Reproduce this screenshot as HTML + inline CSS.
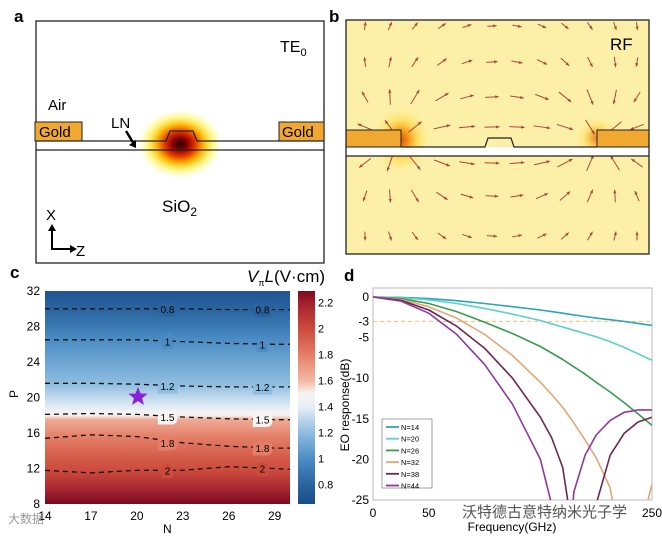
<!DOCTYPE html>
<html><head><meta charset="utf-8"><style>
html,body{margin:0;background:#fff;overflow:hidden;width:662px;height:539px;}
svg{display:block;font-family:"Liberation Sans","Noto Sans CJK SC",sans-serif;}
</style></head><body>
<svg id="root" width="662" height="539" viewBox="0 0 662 539">
<defs>
<radialGradient id="mode" cx="0.5" cy="0.5" r="0.5">
<stop offset="0" stop-color="#200000"/><stop offset="0.18" stop-color="#8a0000"/><stop offset="0.35" stop-color="#e03000"/><stop offset="0.55" stop-color="#ffb000"/><stop offset="0.75" stop-color="#ffee40" stop-opacity="0.7"/><stop offset="1" stop-color="#ffff80" stop-opacity="0"/>
</radialGradient>
<radialGradient id="glow" cx="0.5" cy="0.5" r="0.5">
<stop offset="0" stop-color="#e05010"/><stop offset="0.3" stop-color="#f6a020"/><stop offset="0.6" stop-color="#ffd840" stop-opacity="0.6"/><stop offset="1" stop-color="#fff0a0" stop-opacity="0"/>
</radialGradient>
<linearGradient id="heat" x1="0" y1="0" x2="0" y2="1" gradientUnits="objectBoundingBox"></linearGradient>
<linearGradient id="cbar" x1="0" y1="0" x2="0" y2="1"></linearGradient>
<clipPath id="clipd"><rect x="373" y="288" width="279" height="212"/></clipPath>
<clipPath id="clipb"><rect x="346" y="20" width="303" height="234"/></clipPath>
</defs>

<g>
<text x="14" y="22" font-size="17" font-weight="bold">a</text>
<rect x="36" y="21" width="288" height="242" fill="#fff" stroke="#222" stroke-width="1.3"/>
<ellipse cx="180" cy="144" rx="42" ry="34" fill="url(#mode)"/>
<rect x="35" y="122" width="47" height="19" fill="#f0a830" stroke="#222"/>
<rect x="279" y="122" width="45" height="19" fill="#f0a830" stroke="#222"/>
<path d="M36 141 H166 L170 131 H193 L197 141 H324 M36 150 H324" fill="none" stroke="#222" stroke-width="1.3"/>
<text x="39" y="137" font-size="15">Gold</text>
<text x="282" y="137" font-size="15">Gold</text>
<text x="48" y="110" font-size="15">Air</text>
<text x="111" y="128" font-size="15">LN</text>
<path d="M126 131 L134 144" stroke="#000" stroke-width="2.5"/><path d="M129 145 L136 148 L136 140 Z" fill="#000"/>
<text x="162" y="212" font-size="17">SiO<tspan font-size="12" dy="4">2</tspan></text>
<text x="280" y="52" font-size="16">TE<tspan font-size="11" dy="4">0</tspan></text>
<g>
<text x="46" y="220" font-size="15">X</text><text x="76" y="256" font-size="15">Z</text>
<path d="M52 229 V249 H72" fill="none" stroke="#000" stroke-width="2"/>
<path d="M48 231 L52 224 L56 231 Z M70 245 L77 249 L70 253 Z" fill="#000"/>
</g>
</g>

<g>
<text x="329" y="22" font-size="17" font-weight="bold">b</text>
<rect x="346" y="20" width="303" height="234" fill="#fcf0a8"/>
<g clip-path="url(#clipb)">
<ellipse cx="401" cy="140" rx="30" ry="34" fill="url(#glow)"/>
<ellipse cx="597" cy="138" rx="22" ry="22" fill="url(#glow)" opacity="0.7"/>
<g id="arrows"></g>
</g>
<rect x="346" y="147" width="303" height="9" fill="#fff"/>
<rect x="346" y="130" width="55" height="17" fill="#f0a830" stroke="#222"/>
<rect x="597" y="130" width="52" height="17" fill="#f0a830" stroke="#222"/>
<path d="M401 147 H485 L488 138 H511 L514 147 H597 M346 156 H649" fill="none" stroke="#222" stroke-width="1.2"/>
<rect x="346" y="20" width="303" height="234" fill="none" stroke="#222" stroke-width="1.3"/>
<text x="610" y="50" font-size="17">RF</text>
</g>

<g>
<text x="10" y="278" font-size="17" font-weight="bold">c</text>
<rect id="heatrect" x="45" y="291" width="245" height="213" fill="url(#heat)"/>
<g id="contours"></g>
<g id="caxes"></g>
<rect x="298" y="291" width="17" height="213" fill="url(#cbar)"/>
<g id="cbarticks"></g>
<text x="247" y="282" font-size="17"><tspan font-style="italic">V</tspan><tspan font-size="9" dy="4">π</tspan><tspan font-style="italic" dy="-4">L</tspan>(V·cm)</text>
<text x="14" y="402" font-size="12" transform="rotate(-90 14 398)">P</text>
<text x="163" y="533" font-size="12">N</text>
<path d="M138 387 l2.6 6.5 7 .3 -5.5 4.4 1.9 6.8 -6 -3.9 -6 3.9 1.9 -6.8 -5.5 -4.4 7 -.3z" fill="#8a22d8"/>
</g>

<g>
<text x="344" y="281" font-size="17" font-weight="bold">d</text>
<rect x="373" y="288" width="279" height="212" fill="#fff" stroke="#aaa" stroke-width="0.8"/>
<g id="daxes"></g>
<g id="dlines" clip-path="url(#clipd)"></g>
<g id="legend"></g>
<text x="349" y="405" font-size="12" transform="rotate(-90 349 405)" text-anchor="middle">EO response(dB)</text>
<text x="512" y="531" font-size="12" text-anchor="middle">Frequency(GHz)</text>
</g>
<text x="462" y="517" font-size="15" fill="#555">沃特德古意特纳米光子学</text>
<text x="8" y="523" font-size="12" fill="#999">大数据</text>
</svg>
<script>
var NS='http://www.w3.org/2000/svg';
var freqs=[0,25,50,75,100,125,150,160,170,180,190,200,212.5,225,237.5,250];
var seriesNames=['N=14','N=20','N=26','N=32','N=38','N=44'];
var s14=[0,-0.05,-0.2,-0.45,-0.8,-1.2,-1.6,-1.8,-2.0,-2.2,-2.4,-2.6,-2.8,-3.0,-3.25,-3.5];
var s20=[0,-0.1,-0.35,-0.8,-1.4,-2.1,-2.9,-3.3,-3.7,-4.1,-4.5,-4.9,-5.5,-6.2,-7.0,-7.8];
var s26=[0,-0.2,-0.8,-1.8,-3.1,-4.5,-6.1,-6.9,-7.7,-8.6,-9.5,-10.5,-11.7,-13,-14.4,-15.8];
var s32=[0,-0.3,-1.2,-2.6,-4.6,-7.2,-10.5,-12,-13.6,-15.5,-17.6,-19.8,-23.5,-33,-30,-23];
var s38=[0,-0.4,-1.6,-3.6,-6.3,-10,-14.8,-17.3,-21,-30,-40,-25.5,-19.5,-16.8,-15.4,-14.8];
var s44=[0,-0.5,-2.0,-4.6,-8.3,-13.2,-20,-25.5,-40,-24,-19.5,-17,-15.2,-14.2,-13.9,-13.9];
var seriesColors=['#2aa6b8','#5cd0c8','#3a9a50','#e0a878','#6a2850','#8a3a9a'];
var dXTicks=[0,50,100,150,200,250];
var dYTicks=[0,-3,-5,-10,-15,-20,-25];
function dx(f){return 373+f/250*279;}
function dy(v){return 297+(-v)/25*203;}
var all=[s14,s20,s26,s32,s38,s44];
var dl=document.getElementById('dlines');
var ref=document.createElementNS(NS,'line');
ref.setAttribute('x1',373);ref.setAttribute('x2',652);ref.setAttribute('y1',dy(-3));ref.setAttribute('y2',dy(-3));
ref.setAttribute('stroke','#f0c070');ref.setAttribute('stroke-dasharray','4 3');ref.setAttribute('stroke-width','1');


dl.appendChild(ref);
all.forEach(function(s,i){
  var p=document.createElementNS(NS,'polyline');
  p.setAttribute('points',s.map(function(v,j){return dx(freqs[j])+','+dy(v).toFixed(1);}).join(' '));
  p.setAttribute('fill','none');p.setAttribute('stroke',seriesColors[i]);p.setAttribute('stroke-width','1.6');p.setAttribute('stroke-linejoin','round');
  
  
  dl.appendChild(p);
});
var da=document.getElementById('daxes');
dXTicks.forEach(function(t){
  if(t===100||t===150||t===200)return;
  var tx=document.createElementNS(NS,'text');tx.setAttribute('x',dx(t));tx.setAttribute('y',517);tx.setAttribute('font-size','12');tx.setAttribute('text-anchor','middle');tx.textContent=t;
  
  
  da.appendChild(tx);
});
dYTicks.forEach(function(t){
  var tx=document.createElementNS(NS,'text');tx.setAttribute('x',369);tx.setAttribute('y',dy(t)+4);tx.setAttribute('font-size','12');tx.setAttribute('text-anchor','end');tx.textContent=t;
  
  
  da.appendChild(tx);
});
var lg=document.getElementById('legend');
var lb=document.createElementNS(NS,'rect');lb.setAttribute('x',382);lb.setAttribute('y',419);lb.setAttribute('width',50);lb.setAttribute('height',69);lb.setAttribute('fill','#fff');lb.setAttribute('stroke','#666');lb.setAttribute('stroke-width','0.6');


lg.appendChild(lb);
seriesNames.forEach(function(n,i){
  var y=427+i*11.7;
  var l=document.createElementNS(NS,'line');l.setAttribute('x1',386);l.setAttribute('x2',399);l.setAttribute('y1',y);l.setAttribute('y2',y);l.setAttribute('stroke',seriesColors[i]);l.setAttribute('stroke-width','1.8');
  
  
  lg.appendChild(l);
  var t=document.createElementNS(NS,'text');t.setAttribute('x',401);t.setAttribute('y',y+3);t.setAttribute('font-size','7.5');t.textContent=n;
  
  
  lg.appendChild(t);
});

var profileP=[32,30,28,26.5,24,21.5,19.5,18.5,18,17.5,15.5,13,11.8,10,8];
var profileV=[0.7,0.8,0.9,1.0,1.1,1.2,1.35,1.45,1.5,1.65,1.8,1.95,2.0,2.15,2.3];
var cmapV=[0.65,0.8,1.0,1.2,1.4,1.5,1.6,1.8,2.0,2.2,2.3];
var cmapC=['#1a4c86','#2a64a0','#4b8dc4','#8fbde0','#e6eff7','#f7f4f2','#f3b9a4','#e47e66','#cc4b3c','#a4202e','#7a0a20'];
var contourN=[14,17,20,23,26,29,30];
var contourLevels=['0.8','1','1.2','1.5','1.8','2'];
var c08=[30,30,30,30,29.9,29.9,29.9];
var c10=[26.5,26.5,26.5,26.3,26.1,26,26];
var c12=[21.6,21.6,21.5,21.3,21.2,21.2,21.2];
var c15=[18.1,18.2,18.1,17.8,17.6,17.5,17.5];
var c18=[15.4,15.8,15.6,14.9,14.5,14.3,14.3];
var c20=[11.8,11.5,11.8,11.8,12.2,12.0,11.9];
var cXTicks=[14,17,20,23,26,29];
var cYTicks=[8,12,16,20,24,28,32];
var cbTicks=[0.8,1,1.2,1.4,1.6,1.8,2,2.2];
function cx(n){return 45+(n-14)/16*245;}
function cy(p){return 504-(p-8)/24*213;}
function cbY(v){return 291+(2.29-v)/(2.29-0.65)*213;}
function colorOf(v){var k=0;while(k<cmapV.length-2&&v>cmapV[k+1])k++;
  var t=(v-cmapV[k])/(cmapV[k+1]-cmapV[k]);return mix(cmapC[k],cmapC[k+1],Math.max(0,Math.min(1,t)));}
function mix(a,b,t){var A=parseInt(a.slice(1),16),B=parseInt(b.slice(1),16);
  var r=Math.round(((A>>16)&255)*(1-t)+((B>>16)&255)*t),g=Math.round(((A>>8)&255)*(1-t)+((B>>8)&255)*t),bb=Math.round((A&255)*(1-t)+(B&255)*t);
  return 'rgb('+r+','+g+','+bb+')';}
var heat=document.getElementById('heat');
profileP.forEach(function(p,i){
  var s=document.createElementNS(NS,'stop');s.setAttribute('offset',((32-p)/24).toFixed(3));
  s.setAttribute('stop-color',colorOf(profileV[i]));heat.appendChild(s);
});
var cb=document.getElementById('cbar');
for(var i=cmapV.length-1;i>=0;i--){var s=document.createElementNS(NS,'stop');s.setAttribute('offset',((cbY(cmapV[i])-291)/213).toFixed(3));s.setAttribute('stop-color',cmapC[i]);cb.appendChild(s);}
var cg=document.getElementById('contours');
var levelVals=[0.8,1,1.2,1.5,1.8,2];
[c08,c10,c12,c15,c18,c20].forEach(function(arr,i){
  var p=document.createElementNS(NS,'polyline');
  p.setAttribute('points',arr.map(function(v,j){return cx(contourN[j]).toFixed(1)+','+cy(v).toFixed(1);}).join(' '));
  p.setAttribute('fill','none');p.setAttribute('stroke','#111');p.setAttribute('stroke-width','1.3');p.setAttribute('stroke-dasharray','5 4');
  
  
  cg.appendChild(p);
  [[22,3],[28.2,5]].forEach(function(q){
    var yy=cy(arr[q[1]]);
    var t=document.createElementNS(NS,'text');t.setAttribute('x',cx(q[0]));t.setAttribute('y',yy+4);t.setAttribute('font-size','10');t.setAttribute('text-anchor','middle');
    t.setAttribute('paint-order','stroke');t.setAttribute('stroke',colorOf(levelVals[i]));t.setAttribute('stroke-width','7');
    t.textContent=contourLevels[i];
    
    
    cg.appendChild(t);
  });
});
var ca=document.getElementById('caxes');
cXTicks.forEach(function(n){var t=document.createElementNS(NS,'text');t.setAttribute('x',cx(n));t.setAttribute('y',520);t.setAttribute('font-size','12');t.setAttribute('text-anchor','middle');t.textContent=n;
  
  
  ca.appendChild(t);});
cYTicks.forEach(function(p){var t=document.createElementNS(NS,'text');t.setAttribute('x',40);t.setAttribute('y',cy(p)+4);t.setAttribute('font-size','12');t.setAttribute('text-anchor','end');t.textContent=p;
  
  
  ca.appendChild(t);});
var cbt=document.getElementById('cbarticks');
cbTicks.forEach(function(v){var t=document.createElementNS(NS,'text');t.setAttribute('x',318);t.setAttribute('y',cbY(v)+4);t.setAttribute('font-size','11');t.textContent=v;
  
  
  cbt.appendChild(t);});

var rowsY=[26,62,97,127,163,196,236];
var colsX=[365,390,415,442,467,492,517,542,565,590,615,637];
var ag=document.getElementById('arrows');
rowsY.forEach(function(y){colsX.forEach(function(x){
  var ax=x-401,ay=y-140,bx=x-597,by=y-140;
  var d1=ax*ax+ay*ay,d2=bx*bx+by*by;
  var ex=ax/d1-bx/d2,ey=ay/d1-by/d2;var m=Math.sqrt(ex*ex+ey*ey);
  var L=Math.min(17,5+m*500);var ux=ex/m,uy=ey/m;
  var x1=x-ux*L/2,y1=y-uy*L/2,x2=x+ux*L/2,y2=y+uy*L/2;
  var l=document.createElementNS(NS,'line');l.setAttribute('x1',x1);l.setAttribute('y1',y1);l.setAttribute('x2',x2);l.setAttribute('y2',y2);l.setAttribute('stroke','#a8483a');l.setAttribute('stroke-width','1');
  
  
  ag.appendChild(l);
  var h=document.createElementNS(NS,'path');
  h.setAttribute('d','M'+x2+' '+y2+' L'+(x2-ux*3.5-uy*1.6)+' '+(y2-uy*3.5+ux*1.6)+' L'+(x2-ux*3.5+uy*1.6)+' '+(y2-uy*3.5-ux*1.6)+'Z');
  h.setAttribute('fill','#a8483a');ag.appendChild(h);
});});
</script>
</body></html>
